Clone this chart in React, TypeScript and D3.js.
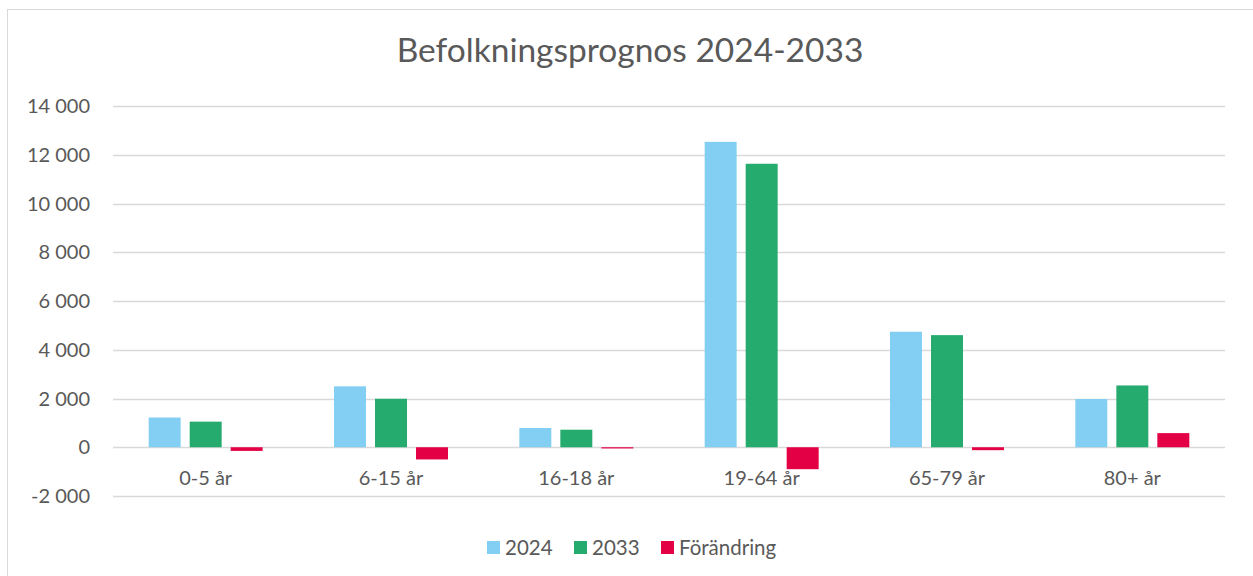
import React from "react";
import * as d3 from "d3";

const categories = ["0-5 år", "6-15 år", "16-18 år", "19-64 år", "65-79 år", "80+ år"];
const series = ["2024", "2033", "Förändring"];
const values2024 = [1220, 2500, 790, 12530, 4740, 1980];
const values2033 = [1050, 1990, 720, 11630, 4600, 2535];
const valuesChange = [-150, -500, -50, -900, -120, 580];
const yTicks = [-2000, 0, 2000, 4000, 6000, 8000, 10000, 12000, 14000];
const colors = ["#83CFF3", "#25AB6E", "#E30045"];
const title = "Befolkningsprognos 2024-2033";

const W = 1253;
const H = 576;
const left = 113;
const right = 1225;
const font = "Lato, 'Open Sans', sans-serif";

function fmt(v: number) {
  const s = Math.abs(v).toString().replace(/\B(?=(\d{3})+(?!\d))/g, " ");
  return (v < 0 ? "-" : "") + s;
}

export default function App() {
  const y = d3.scaleLinear().domain([-2000, 14000]).range([496, 106]);
  const x0 = d3.scaleBand<string>().domain(categories).range([left, right]).padding(0);
  const groupW = 114;
  const x1 = d3.scaleBand<string>().domain(series).range([0, groupW]).paddingInner(0.22);
  const data = [values2024, values2033, valuesChange];

  const legendX = [487, 574, 661];

  return (
    <svg width={W} height={H} style={{ position: "absolute", left: 0, top: 0, display: "block", background: "#fff" }}>
      <rect x={7.5} y={9.5} width={1260} height={600} fill="#fff" stroke="#d9d9d9" strokeWidth={1} />
      <text x={630} y={62} textAnchor="middle" fontFamily={font} fontSize={33.5} fill="#595959">{title}</text>
      {yTicks.map((t) => (
        <g key={t}>
          <line x1={left} x2={right} y1={Math.round(y(t)) + 0.5} y2={Math.round(y(t)) + 0.5} stroke="#d9d9d9" strokeWidth={1.5} />
          <text x={90} y={y(t) + 7} textAnchor="end" fontFamily={font} fontSize={20} fill="#595959">{fmt(t)}</text>
        </g>
      ))}
      {categories.map((c, i) => {
        const gx = (x0(c) as number) + (x0.bandwidth() - groupW) / 2;
        return (
          <g key={c}>
            {series.map((s, j) => {
              const v = data[j][i];
              const y0 = y(0);
              const yv = y(v);
              return (
                <rect key={s} x={gx + (x1(s) as number)} width={x1.bandwidth()} y={Math.min(y0, yv)} height={Math.abs(yv - y0)} fill={colors[j]} />
              );
            })}
            <text x={(x0(c) as number) + x0.bandwidth() / 2} y={485} textAnchor="middle" fontFamily={font} fontSize={20} fill="#595959">{c}</text>
          </g>
        );
      })}
      {series.map((s, j) => (
        <g key={s}>
          <rect x={legendX[j]} y={541} width={13} height={13} fill={colors[j]} />
          <text x={legendX[j] + 18} y={555} fontFamily={font} fontSize={20.5} fill="#595959">{s}</text>
        </g>
      ))}
    </svg>
  );
}
